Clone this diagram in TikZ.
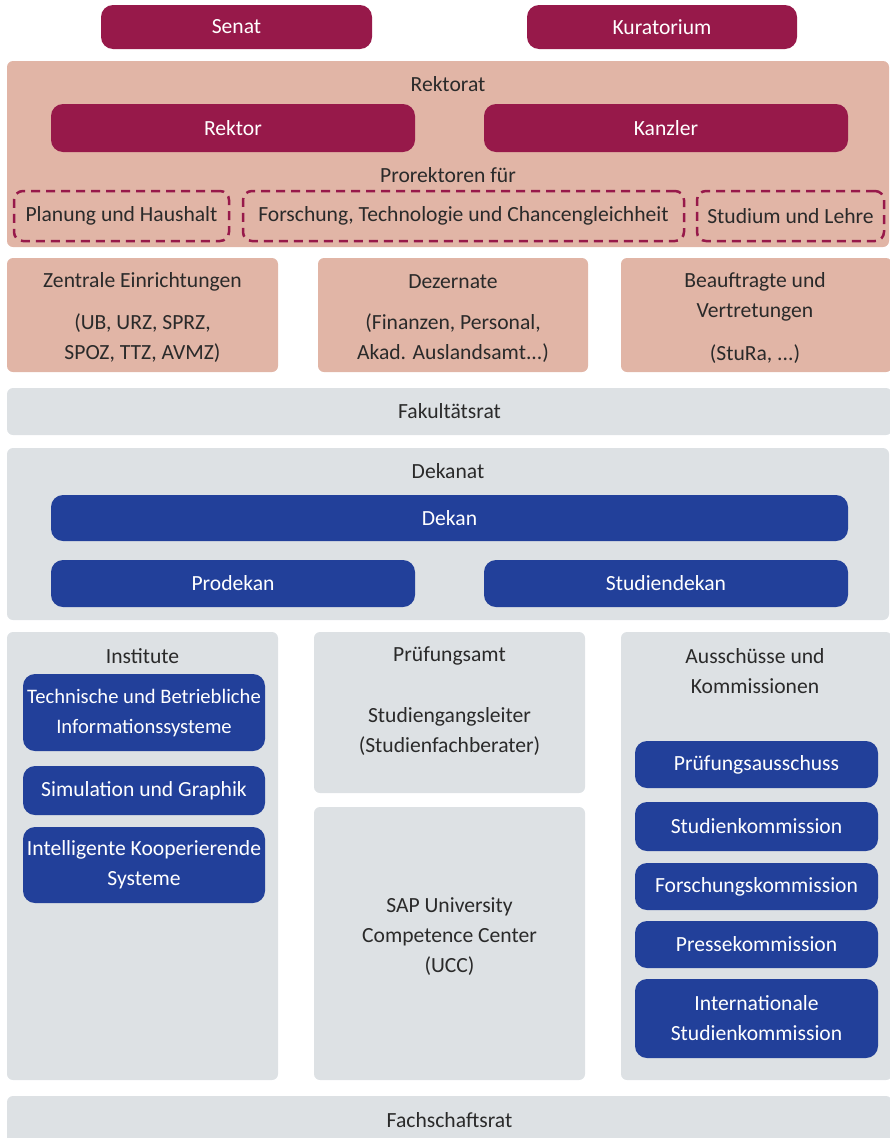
\documentclass[tikz,border=0pt]{standalone}
\usepackage{fontspec}
\setmainfont{Carlito}
\usepackage{tikz}
\usetikzlibrary{positioning}
\definecolor{weinrot}{HTML}{97194A}
\definecolor{lachs}{HTML}{E1B5A6}
\definecolor{hellgrau}{HTML}{DDE1E4}
\definecolor{dunkelblau}{HTML}{22409A}
\definecolor{schrift}{HTML}{2A2A2A}

\begin{document}
\begin{tikzpicture}[x=1pt,y=-1pt,
                    nodes={inner sep=0pt, align=center, text=schrift,
                           font=\fontsize{21.6}{30}\selectfont},
                    feld/.style={fill=#1, rounded corners=6pt},
                    knopf/.style={fill=#1, rounded corners=12pt, text=white},
                    pro/.style={draw=weinrot, line width=2.5pt, rounded corners=9pt,
                                dash pattern=on 9pt off 6pt}]
 \useasboundingbox (0,0) rectangle (889,1138);
 % Hochschulleitung
 \node[knopf=weinrot, minimum width=271, minimum height=44] (senat) at (236.5,27) {Senat};
 \node[knopf=weinrot, minimum width=270, minimum height=44] (kuratorium) at (662,27) {Kuratorium};
 \node[feld=lachs, minimum width=882, minimum height=186] (rektorat) at (448,154) {};
 \node (rektoratTitel) at (448,84) {Rektorat};
 \node[knopf=weinrot, minimum width=364, minimum height=48] (rektor) at (233,128) {Rektor};
 \node[knopf=weinrot, minimum width=364, minimum height=48] (kanzler) at (666,128) {Kanzler};
 \node (prorektoren) at (448,175) {Prorektoren f\"ur};
 \node[pro, minimum width=215, minimum height=50] (planung) at (121.5,216) {Planung und Haushalt};
 \node[pro, minimum width=441, minimum height=50] (forschung) at (463.5,216)
      {Forschung, Technologie und Chancengleichheit};
 \node[pro, minimum width=187, minimum height=50] (studium) at (790.5,216) {Studium und Lehre};
 % Einrichtungen
 \node[feld=lachs, minimum width=271, minimum height=114] (zentrale) at (142.5,315) {};
 \node (zentraleTitel) at (142.5,282) {Zentrale Einrichtungen};
 \node at (142.5,338) {(UB, URZ, SPRZ,\\SPOZ, TTZ, AVMZ)};
 \node[feld=lachs, minimum width=270, minimum height=114] (dezernate) at (453,315) {};
 \node (dezernateTitel) at (453,282) {Dezernate};
 \node at (453,338) {(Finanzen, Personal,\\Akad. Auslandsamt...)};
 \node[feld=lachs, minimum width=271, minimum height=114] (beauftragte) at (756.5,315) {};
 \node (beauftragteTitel) at (755,297) {Beauftragte und\\Vertretungen};
 \node at (755,354) {(StuRa, ...)};
 % Fakultaet
 \node[feld=hellgrau, minimum width=885, minimum height=47] (fakultaetsrat) at (449.5,411.5) {Fakult\"atsrat};
 \node[feld=hellgrau, minimum width=882, minimum height=172] (dekanat) at (448,534) {};
 \node (dekanatTitel) at (448,471) {Dekanat};
 \node[knopf=dunkelblau, minimum width=797, minimum height=46] (dekan) at (449.5,518) {Dekan};
 \node[knopf=dunkelblau, minimum width=364, minimum height=47] (prodekan) at (233,583.5) {Prodekan};
 \node[knopf=dunkelblau, minimum width=364, minimum height=47] (studiendekan) at (666,583.5) {Studiendekan};
 % Institute
 \node[feld=hellgrau, minimum width=271, minimum height=448] (institute) at (142.5,856) {};
 \node (instituteTitel) at (142.5,656) {Institute};
 \node[knopf=dunkelblau, minimum width=242, minimum height=77,
       font=\fontsize{20.6}{30}\selectfont] (tbi) at (144,712.5)
      {Technische und Betriebliche\\Informationssysteme};
 \node[knopf=dunkelblau, minimum width=242, minimum height=49] (simulation) at (144,790.5)
      {Simulation und Graphik};
 \node[knopf=dunkelblau, minimum width=242, minimum height=76] (iks) at (144,865)
      {Intelligente Kooperierende\\Systeme};
 % Pruefungsamt und UCC
 \node[feld=hellgrau, minimum width=271, minimum height=161] (pruefungsamt) at (449.5,712.5) {};
 \node (pruefungsamtTitel) at (449.5,656) {Pr\"ufungsamt};
 \node at (449.5,731.5) {Studiengangsleiter\\(Studienfachberater)};
 \node[feld=hellgrau, minimum width=271, minimum height=273] (ucc) at (449.5,943.5) {};
 \node (uccText) at (449.5,936.5) {SAP University\\Competence Center\\(UCC)};
 % Ausschuesse
 \node[feld=hellgrau, minimum width=271, minimum height=448] (ausschuesse) at (756.5,856) {};
 \node (ausschuesseTitel) at (755,671.5) {Aussch\"usse und\\Kommissionen};
 \node[knopf=dunkelblau, minimum width=243, minimum height=47] (pruefungsausschuss) at (756.5,764.5)
      {Pr\"ufungsausschuss};
 \node[knopf=dunkelblau, minimum width=243, minimum height=49] (studienkommission) at (756.5,826.5)
      {Studienkommission};
 \node[knopf=dunkelblau, minimum width=243, minimum height=47] (forschungskommission) at (756.5,886.5)
      {Forschungskommission};
 \node[knopf=dunkelblau, minimum width=243, minimum height=47] (pressekommission) at (756.5,944.5)
      {Pressekommission};
 \node[knopf=dunkelblau, minimum width=243, minimum height=79] (international) at (756.5,1018.5)
      {Internationale\\Studienkommission};
 % Fachschaft
 \node[feld=hellgrau, minimum width=885, minimum height=49] (fachschaftsrat) at (449.5,1120.5) {Fachschaftsrat};
\end{tikzpicture}
\end{document}
